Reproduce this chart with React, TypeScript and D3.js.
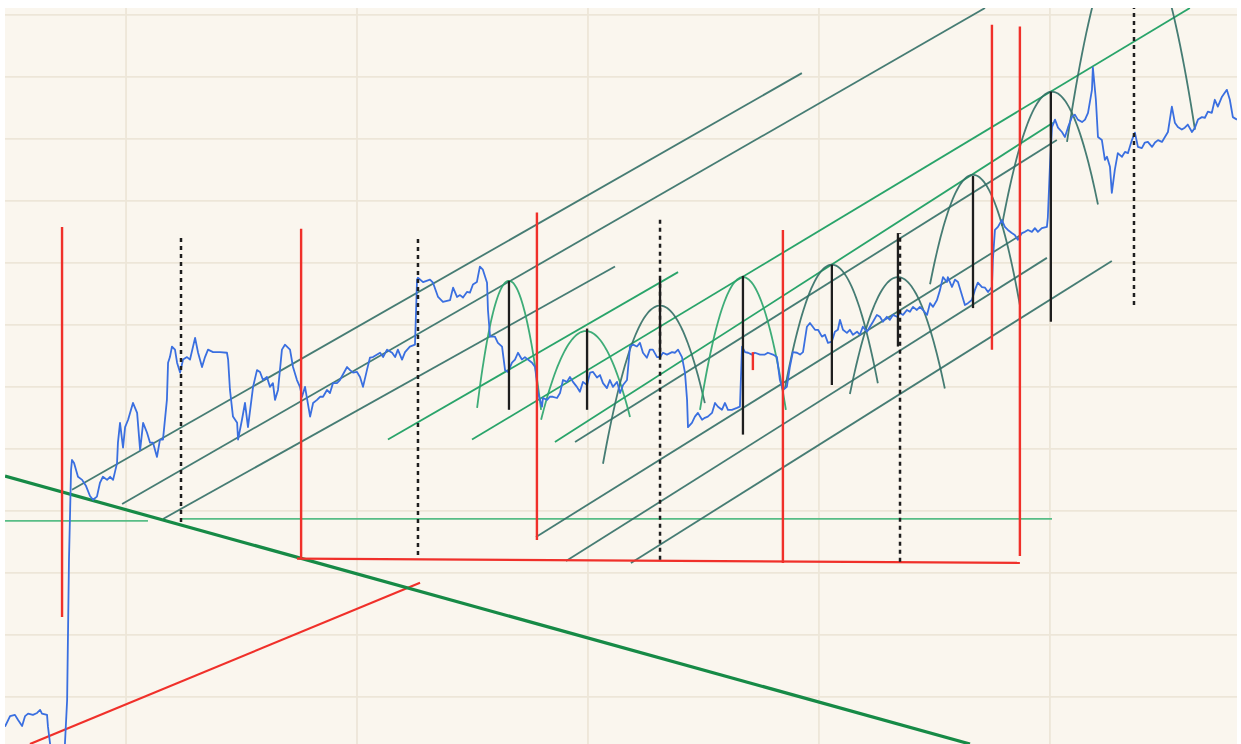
import * as d3 from "d3";

// chart area inside the 1241x744 picture
const width = 1241;
const height = 744;
const margin = { top: 8, right: 4, bottom: 0, left: 5 };

// x is in trading days, y is price
const dayDomain: [number, number] = [-52.4, 481.0];
const priceDomain: [number, number] = [92.4, 211.1];

const gridDays = [0, 100, 200, 300, 400];
const gridPrices = [100, 110, 120, 130, 140, 150, 160, 170, 180, 190, 200, 210];

// price series [day, price]
const prices: [number, number][] = [
  [-52.4, 95.2], [-50.2, 96.9], [-48.1, 97.1], [-46.8, 96.3], [-45.0, 95.3], [-43.7, 96.9],
  [-42.4, 97.3], [-40.3, 97.1], [-38.5, 97.4], [-37.2, 97.9], [-36.4, 97.3], [-34.2, 97.1],
  [-33.8, 95.2], [-32.0, 89.8], [-29.4, 88.2], [-26.8, 89.8], [-25.5, 99.5], [-24.7, 122.1],
  [-23.8, 136.6], [-23.4, 138.2], [-22.5, 137.7], [-20.8, 135.5], [-19.0, 135.0], [-17.3, 134.0],
  [-15.6, 132.4], [-14.3, 131.8], [-12.6, 132.3], [-11.3, 134.5], [-10.0, 135.5], [-8.2, 135.0],
  [-6.9, 135.5], [-5.6, 135.0], [-3.9, 137.7], [-3.5, 141.0], [-2.6, 144.2], [-1.3, 140.2],
  [-0.4, 143.5], [0.9, 144.7], [3.0, 147.4], [4.8, 145.8], [6.1, 139.8], [7.4, 144.2],
  [9.1, 142.6], [10.4, 141.0], [11.7, 141.0], [13.4, 138.7], [14.7, 141.5], [16.0, 141.5],
  [17.7, 147.9], [18.2, 153.9], [19.0, 154.8], [19.9, 156.5], [21.2, 156.0], [22.1, 153.9],
  [23.4, 152.3], [24.7, 154.4], [26.4, 154.8], [27.7, 154.4], [29.9, 157.9], [31.2, 155.5],
  [32.9, 153.2], [34.2, 154.8], [35.5, 156.0], [37.7, 155.6], [40.7, 155.6], [43.7, 155.5],
  [44.2, 154.4], [45.0, 149.5], [46.3, 145.2], [48.1, 144.2], [48.5, 141.5], [50.2, 144.7],
  [51.5, 147.4], [52.8, 143.5], [55.0, 150.0], [56.7, 152.7], [58.0, 152.4], [59.3, 151.1],
  [61.0, 151.6], [62.3, 150.0], [63.6, 150.6], [64.5, 147.9], [65.8, 149.5], [67.5, 156.0],
  [68.8, 156.8], [71.0, 156.0], [72.3, 153.2], [74.0, 151.1], [75.3, 150.0], [76.2, 148.4],
  [77.5, 150.0], [79.7, 145.2], [81.0, 147.4], [82.7, 147.9], [84.0, 148.4], [85.3, 148.4],
  [87.0, 149.5], [88.3, 149.0], [89.6, 150.6], [91.3, 150.6], [92.6, 151.1], [95.7, 153.2],
  [97.0, 152.7], [98.3, 152.3], [100.0, 152.4], [101.3, 151.6], [102.6, 150.0], [104.3, 152.7],
  [105.6, 154.7], [106.9, 154.8], [110.0, 155.5], [111.3, 154.8], [113.0, 156.0], [115.2, 155.5],
  [116.5, 154.8], [117.7, 156.0], [119.5, 154.4], [120.8, 155.6], [122.9, 156.5], [125.1, 156.8],
  [126.0, 167.3], [126.4, 167.6], [128.6, 166.9], [131.6, 167.3], [132.9, 166.8], [135.1, 164.5],
  [137.2, 163.7], [140.3, 164.0], [141.6, 166.0], [143.3, 164.5], [144.6, 164.8], [145.9, 164.4],
  [147.6, 165.3], [148.9, 165.2], [150.2, 166.5], [151.9, 166.9], [153.2, 169.4], [154.5, 168.9],
  [156.3, 166.8], [156.7, 162.4], [157.6, 158.1], [159.7, 158.1], [161.0, 157.1], [162.8, 156.5],
  [164.1, 152.7], [165.4, 152.4], [167.1, 153.9], [168.4, 154.4], [169.7, 155.5], [171.4, 154.4],
  [172.7, 154.8], [174.0, 154.4], [175.8, 153.9], [177.1, 153.2], [178.4, 149.0], [180.1, 146.8],
  [180.5, 148.2], [182.3, 147.9], [183.5, 148.4], [184.8, 148.4], [186.6, 148.2], [187.9, 149.0],
  [189.2, 151.1], [190.9, 150.8], [192.2, 151.6], [193.5, 150.8], [195.2, 150.0], [196.5, 149.2],
  [197.8, 150.8], [199.6, 150.3], [200.9, 152.3], [202.2, 152.4], [203.9, 151.5], [205.2, 151.9],
  [206.5, 150.6], [208.2, 149.8], [209.5, 151.1], [210.8, 150.0], [212.6, 150.8], [213.9, 149.0],
  [215.2, 150.3], [216.9, 151.1], [218.2, 156.5], [219.5, 156.8], [221.2, 156.5], [222.5, 157.1],
  [223.8, 155.5], [225.5, 154.7], [226.8, 156.0], [228.1, 156.0], [229.9, 154.8], [231.2, 154.8],
  [232.5, 155.5], [234.2, 155.2], [236.4, 155.6], [237.7, 155.5], [239.0, 156.0], [240.7, 154.8],
  [242.0, 152.3], [242.9, 147.9], [243.3, 143.5], [245.0, 144.2], [246.3, 145.2], [247.6, 145.8],
  [249.4, 144.7], [250.6, 145.0], [251.9, 145.2], [253.7, 145.8], [255.0, 147.4], [256.3, 146.8],
  [258.0, 146.3], [259.3, 147.4], [260.6, 146.3], [262.3, 146.3], [264.5, 146.6], [265.8, 146.8],
  [266.7, 156.5], [268.0, 155.6], [269.3, 155.5], [271.0, 155.2], [272.3, 155.5], [274.5, 155.2],
  [276.6, 155.2], [277.9, 155.5], [280.1, 155.2], [281.8, 154.8], [283.1, 151.1], [284.4, 149.5],
  [286.1, 150.0], [287.4, 153.2], [288.7, 155.6], [290.5, 155.5], [291.8, 155.2], [293.1, 155.6],
  [294.8, 159.7], [296.1, 160.3], [298.3, 159.2], [299.6, 159.2], [301.3, 158.1], [302.6, 158.4],
  [303.9, 157.1], [305.6, 157.3], [306.9, 158.9], [308.2, 159.2], [309.1, 160.8], [310.4, 159.2],
  [312.1, 158.7], [313.4, 159.2], [314.7, 158.4], [316.5, 158.9], [317.7, 158.4], [319.0, 159.7],
  [320.8, 158.9], [322.1, 159.7], [323.4, 160.5], [325.1, 161.6], [326.4, 161.3], [327.7, 160.5],
  [329.4, 161.3], [330.7, 160.8], [332.0, 161.6], [333.8, 161.3], [335.1, 161.9], [336.4, 161.6],
  [338.1, 162.4], [339.4, 162.1], [340.7, 162.9], [342.4, 162.4], [343.7, 162.9], [345.0, 162.4],
  [346.8, 161.6], [348.1, 163.5], [349.4, 162.9], [351.1, 164.0], [352.4, 165.6], [353.7, 167.7],
  [355.4, 166.9], [355.8, 167.7], [357.6, 166.1], [358.9, 167.3], [360.2, 166.9], [361.9, 164.8],
  [363.2, 163.2], [364.5, 163.5], [366.2, 164.0], [367.5, 165.6], [368.8, 166.8], [370.6, 166.1],
  [371.9, 166.0], [373.2, 165.3], [374.9, 166.1], [375.3, 170.5], [376.2, 175.3], [377.5, 175.8],
  [379.2, 176.9], [380.5, 175.8], [381.8, 175.3], [383.5, 174.8], [384.8, 174.5], [386.1, 173.7],
  [387.9, 174.8], [389.2, 175.0], [390.5, 175.3], [392.2, 175.0], [393.5, 175.6], [394.8, 175.0],
  [396.5, 175.6], [398.7, 175.8], [399.1, 177.3], [400.0, 185.5], [400.9, 191.9], [402.2, 193.1],
  [403.5, 191.8], [405.2, 191.1], [406.5, 190.3], [407.8, 191.8], [409.5, 193.5], [410.8, 193.9],
  [412.1, 193.1], [413.9, 192.7], [415.2, 193.1], [416.5, 194.2], [418.2, 197.9], [418.6, 201.5],
  [419.9, 196.3], [420.8, 190.3], [422.5, 189.8], [423.8, 186.6], [424.7, 187.1], [426.0, 185.5],
  [426.8, 181.3], [428.1, 185.0], [429.4, 187.7], [431.2, 187.1], [432.5, 187.9], [433.8, 187.7],
  [435.5, 189.8], [436.8, 191.0], [438.1, 188.7], [439.8, 188.5], [441.1, 189.4], [442.4, 189.5],
  [444.2, 188.7], [445.5, 189.4], [446.8, 189.8], [448.5, 189.5], [449.8, 190.3], [451.1, 191.1],
  [452.8, 195.2], [454.1, 192.6], [455.4, 191.9], [457.1, 191.5], [458.4, 191.8], [459.7, 192.3],
  [461.5, 191.1], [462.8, 191.8], [464.1, 193.1], [465.8, 193.5], [467.1, 193.4], [468.4, 194.4],
  [470.1, 194.2], [471.4, 196.3], [472.7, 195.2], [474.5, 196.8], [476.6, 197.9], [477.9, 196.3],
  [479.2, 193.5], [481.0, 193.1],
];

type Seg = [[number, number], [number, number]];

// hand-drawn trend lines, each from [day, price] to [day, price]
const mainTrend: Seg[] = [[[-52.4, 135.6], [365.4, 92.4]]];
const redRay: Seg[] = [[[-41.6, 92.4], [127.3, 118.4]]];
const redBase: Seg[] = [[[74.0, 122.3], [387.0, 121.6]]];
const levelLines: Seg[] = [
  [[-52.4, 128.4], [9.5, 128.4]],
  [[23.4, 128.7], [400.9, 128.7]],
];
const tealChannel: Seg[] = [
  [[-23.4, 133.4], [292.6, 200.6]],
  [[-1.7, 131.1], [371.9, 211.1]],
  [[16.0, 128.7], [211.7, 169.4]],
  [[177.5, 125.8], [387.0, 174.4]],
  [[190.5, 121.9], [398.7, 170.8]],
  [[218.6, 121.6], [426.8, 170.3]],
  [[194.4, 141.1], [403.0, 189.8]],
];
const greenChannel: Seg[] = [
  [[113.4, 141.5], [239.0, 168.5]],
  [[149.8, 141.5], [460.6, 211.1]],
  [[185.7, 141.1], [401.3, 192.6]],
];

// vertical markers: [day, low price, high price]
const redMarks: [number, number, number][] = [
  [-27.7, 112.9, 175.8],
  [75.8, 122.4, 175.5],
  [177.9, 125.3, 178.1],
  [284.4, 121.6, 175.3],
  [374.9, 156.0, 208.4],
  [387.0, 122.7, 208.1],
  [271.4, 152.7, 155.6],
];
const dashedMarks: [number, number, number][] = [
  [23.8, 128.2, 174.2],
  [126.4, 122.9, 174.5],
  [231.2, 122.1, 177.4],
  [335.1, 121.8, 174.8],
  [436.4, 163.2, 211.1],
];
const solidMarks: [number, number, number][] = [
  [165.8, 146.3, 167.1],
  [199.6, 146.3, 159.4],
  [231.2, 154.7, 167.4],
  [267.1, 142.3, 167.9],
  [305.6, 150.3, 169.7],
  [334.2, 156.5, 174.8],
  [366.7, 162.7, 184.0],
  [400.4, 160.5, 197.6],
];

// parabolic arcs: top (day, price), half width w with price pw at +/-w, drawn from..to
type Arc = { d0: number; p0: number; w: number; pw: number; from: number; to: number; green: boolean };
const arcs: Arc[] = [
  { d0: 165.8, p0: 167.1, w: 13.9, pw: 146.3, from: 152.0, to: 179.7, green: true },
  { d0: 199.1, p0: 159.0, w: 19.4, pw: 144.7, from: 179.7, to: 218.2, green: true },
  { d0: 231.2, p0: 163.1, w: 24.7, pw: 137.6, from: 206.5, to: 250.6, green: false },
  { d0: 267.1, p0: 167.7, w: 18.6, pw: 146.3, from: 248.5, to: 285.7, green: true },
  { d0: 305.6, p0: 169.7, w: 20.3, pw: 149.8, from: 285.3, to: 325.5, green: false },
  { d0: 334.2, p0: 167.7, w: 20.6, pw: 149.2, from: 313.4, to: 354.5, green: false },
  { d0: 366.7, p0: 184.2, w: 19.5, pw: 164.8, from: 348.1, to: 387.0, green: false },
  { d0: 400.9, p0: 197.6, w: 19.9, pw: 179.4, from: 379.2, to: 420.8, green: false },
  { d0: 435.5, p0: 224.2, w: 27.7, pw: 190.5, from: 407.4, to: 462.8, green: false },
];

const RED = "#f0302a";
const TEAL = "#326f66";
const GREEN = "#29a46a";

export default function App() {
  const x = d3
    .scaleLinear()
    .domain(dayDomain)
    .range([margin.left, width - margin.right]);
  const y = d3
    .scaleLinear()
    .domain(priceDomain)
    .range([height - margin.bottom, margin.top]);

  const line = d3
    .line<[number, number]>()
    .x((d) => x(d[0]))
    .y((d) => y(d[1]));

  const arcPath = (a: Arc) => {
    const pts: [number, number][] = d3.range(0, 61).map((i) => {
      const d = a.from + ((a.to - a.from) * i) / 60;
      const t = (d - a.d0) / a.w;
      return [d, a.p0 - (a.p0 - a.pw) * t * t];
    });
    return line(pts) ?? "";
  };

  const segs = (list: Seg[], stroke: string, w: number, key: string, opacity = 1) =>
    list.map((s, i) => (
      <path key={`${key}${i}`} d={line(s) ?? ""} stroke={stroke} strokeWidth={w} strokeOpacity={opacity} fill="none" />
    ));

  const verticals = (list: [number, number, number][], stroke: string, w: number, key: string, dash?: string) =>
    list.map(([d, lo, hi], i) => (
      <line
        key={`${key}${i}`}
        x1={x(d)}
        x2={x(d)}
        y1={y(lo)}
        y2={y(hi)}
        stroke={stroke}
        strokeWidth={w}
        strokeDasharray={dash}
      />
    ));

  const x0 = margin.left;
  const y0 = margin.top;
  const pw = width - margin.left - margin.right;
  const ph = height - margin.top - margin.bottom;

  return (
    <svg
      width={width}
      height={height}
      viewBox={`0 0 ${width} ${height}`}
      style={{ position: "absolute", left: 0, top: 0, background: "#ffffff" }}
    >
      <defs>
        <clipPath id="plot">
          <rect x={x0} y={y0} width={pw} height={ph} />
        </clipPath>
      </defs>
      <rect x={x0} y={y0} width={pw} height={ph} fill="#faf6ee" />
      <g clipPath="url(#plot)">
        <g stroke="#ede6d8" strokeWidth={1.8}>
          {gridPrices.map((p) => (
            <line key={`gy${p}`} x1={x0} x2={x0 + pw} y1={y(p)} y2={y(p)} />
          ))}
          {gridDays.map((d) => (
            <line key={`gx${d}`} x1={x(d)} x2={x(d)} y1={y0} y2={y0 + ph} />
          ))}
        </g>

        {segs(levelLines, "#58bd86", 1.8, "lv")}
        {segs(tealChannel, TEAL, 1.8, "tc", 0.9)}
        {segs(greenChannel, GREEN, 1.8, "gc")}

        {arcs.map((a, i) => (
          <path
            key={`arc${i}`}
            d={arcPath(a)}
            fill="none"
            stroke={a.green ? GREEN : TEAL}
            strokeWidth={1.8}
            strokeOpacity={0.9}
          />
        ))}

        {segs(redRay, RED, 2.2, "rr")}
        {segs(mainTrend, "#168a46", 3.2, "mt")}
        {segs(redBase, RED, 2.2, "rb")}

        <path d={line(prices) ?? ""} fill="none" stroke="#3a6fe0" strokeWidth={1.8} strokeLinejoin="round" />

        {verticals(redMarks, RED, 2.4, "rm")}
        {verticals(dashedMarks, "#1e1e1e", 2.5, "dm", "4,4")}
        {verticals(solidMarks, "#1e1e1e", 2.3, "sm")}
      </g>
    </svg>
  );
}
